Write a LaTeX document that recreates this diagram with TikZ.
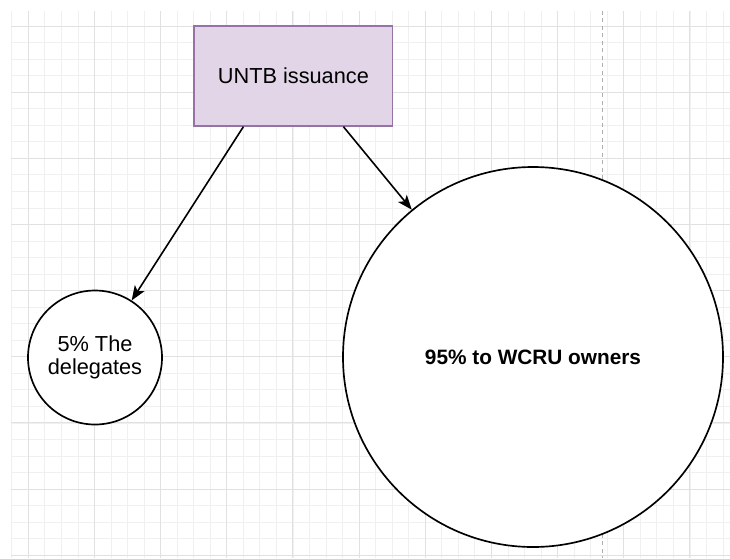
\documentclass[tikz,border=0pt]{standalone}
\usepackage{fontspec}
\setmainfont{Liberation Sans}
\usetikzlibrary{arrows.meta,calc}

\begin{document}
\begin{tikzpicture}[x=0.75pt,y=0.75pt,yscale=-1,xscale=1,
	minorgrid/.style={draw={rgb, 255:red, 240; green, 240; blue, 240 },line width=0.6},
	majorgrid/.style={draw={rgb, 255:red, 225; green, 225; blue, 225 },line width=0.75},
	guide/.style={draw={rgb, 255:red, 175; green, 175; blue, 175 },line width=0.9,dash pattern={on 3pt off 2.6pt}},
	pool/.style={circle,draw,line width=1.25,fill=white,inner sep=0pt,align=center,font=\fontsize{16.3}{17.5}\selectfont},
	flow/.style={draw,line width=1.2,-{Stealth[length=11pt,width=8.5pt,inset=2.8pt]}}]
	\useasboundingbox (0,0) rectangle (730,558);
	\fill [white] (0,0) rectangle (730,558);
	% background grid
	\foreach \i in {-1,...,42} \draw [minorgrid] ({28.3+16.54*\i},11) -- ({28.3+16.54*\i},558);
	\foreach \j in {0,...,32} \draw [minorgrid] (11,{26+16.54*\j}) -- (730,{26+16.54*\j});
	\foreach \i in {0,...,10} \draw [majorgrid] ({28.3+66.16*\i},11) -- ({28.3+66.16*\i},558);
	\foreach \j in {0,...,8} \draw [majorgrid] (11,{26+66.16*\j}) -- (730,{26+66.16*\j});
	\draw [guide] (602.7,11) -- (602.7,558);
	% nodes
	\node [draw={rgb, 255:red, 150; green, 115; blue, 166 },fill={rgb, 255:red, 225; green, 213; blue, 231 },line width=1,minimum width=149pt,minimum height=75pt,inner sep=0pt,font=\fontsize{16.3}{17.5}\selectfont] (issue) at (293.4,76) {UNTB issuance};
	\node [pool,minimum size=100.5pt] (dlg) at (95,357.5) {5\% The\\delegates};
	\node [pool,minimum size=285pt,font=\fontsize{15.6}{18}\selectfont\bfseries] (own) at (533,357) {95\% to WCRU owners};
	% arrows
	\coordinate (s1) at ($(issue.south)!0.5!(issue.south west)$);
	\coordinate (s2) at ($(issue.south)!0.5!(issue.south east)$);
	\draw [flow] (s1) -- (dlg);
	\draw [flow] (s2) -- (own);
\end{tikzpicture}
\end{document}
